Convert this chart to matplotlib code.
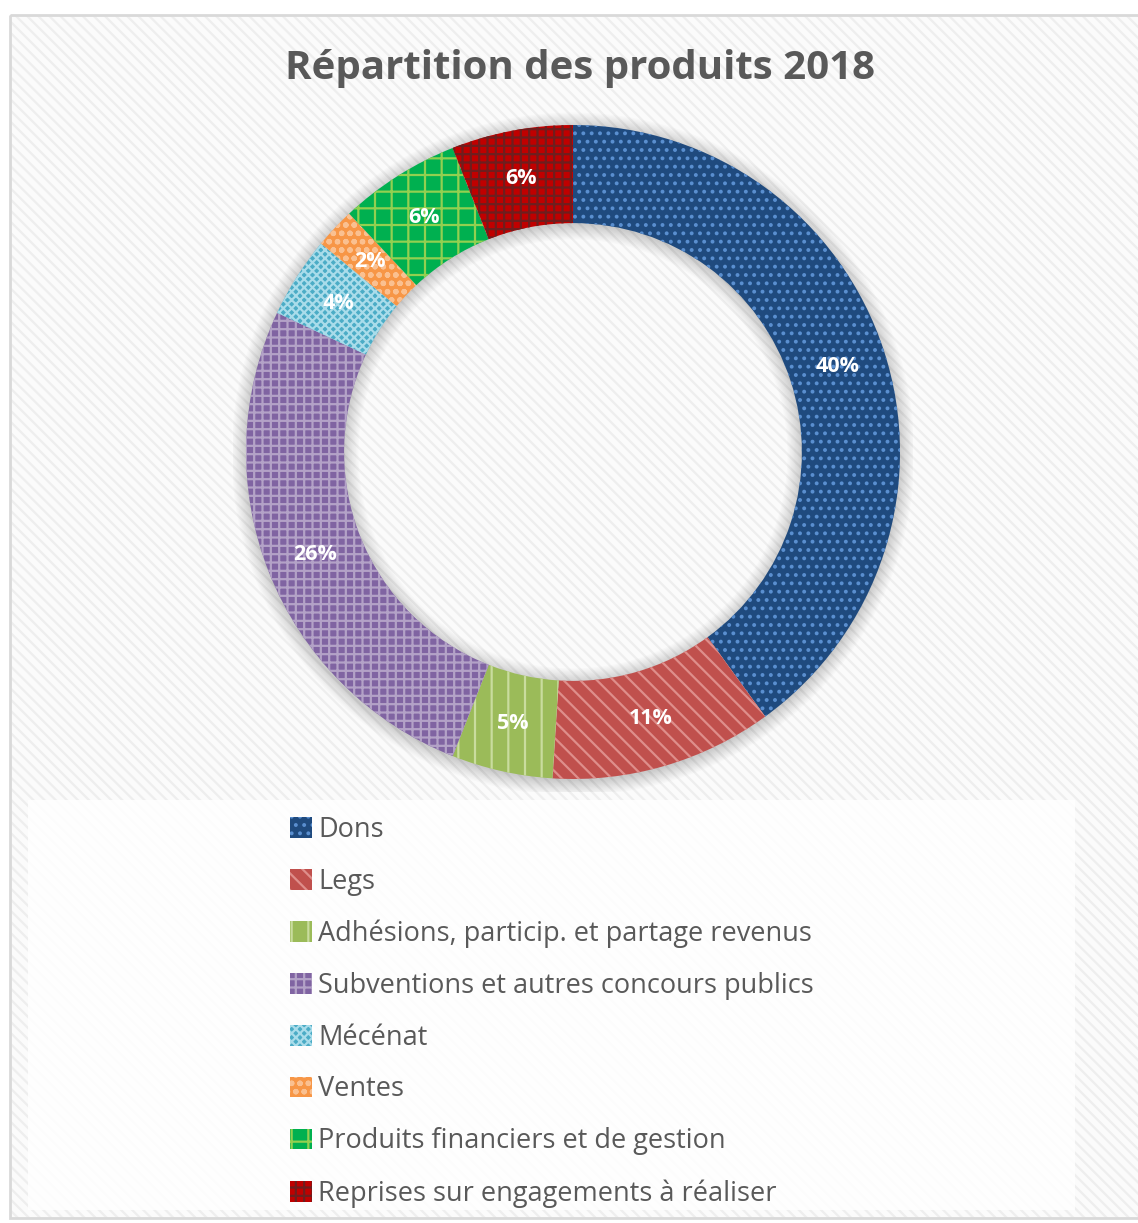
import matplotlib
matplotlib.use("Agg")
import matplotlib.pyplot as plt
from matplotlib.patches import Rectangle, Wedge
import numpy as np

plt.rcParams['font.family'] = ['Open Sans', 'DejaVu Sans']
plt.rcParams['hatch.linewidth'] = 1.6

labels = ["Dons", "Legs", "Adhésions, particip. et partage revenus",
          "Subventions et autres concours publics", "Mécénat", "Ventes",
          "Produits financiers et de gestion", "Reprises sur engagements à réaliser"]
values = [40, 11, 5, 26, 4, 2, 6, 6]
colors = ["#1F4A7E", "#C0504D", "#9BBB59", "#8064A2", "#4BACC6", "#F79646", "#00B050", "#C00000"]
hatch_colors = ["#5A8FD0", "#DE8E8B", "#C9DC9E", "#B3A2C7", "#A9DCEA", "#FAC090", "#92D050", "#6E1E1E"]
hatches = ["..", "\\\\", "|", "++", "xxxx", "oo", "+", "++"]

W, H = 1138, 1223
fig = plt.figure(figsize=(W / 100, H / 100), dpi=100)
fig.patch.set_facecolor("white")

# background frame with faint diagonal texture
bg = fig.add_axes([0, 0, 1, 1])
bg.set_xlim(0, W)
bg.set_ylim(H, 0)
bg.axis("off")
bg.add_patch(Rectangle((10, 15), W - 8, H - 20, facecolor="#fbfbfb", edgecolor="#eeeeee",
                       hatch="\\\\\\", linewidth=0))
bg.add_patch(Rectangle((10, 15), W - 8, H - 20, facecolor="none", edgecolor="#d9d9d9", linewidth=2))
bg.add_patch(Rectangle((28, 800), 1047, 410, facecolor="white", edgecolor="none", alpha=0.85))

fig.text(580 / W, 1 - 68 / H, "Répartition des produits 2018", ha="center", va="center",
         fontsize=29, fontweight="bold", color="#595959")

# donut
cx, cy, R = 573, 452, 327
lim = 340 / R
ax = fig.add_axes([(cx - 340) / W, 1 - (cy + 340) / H, 680 / W, 680 / H])

inner = 0.70
# soft shadow
for i in range(12):
    a = 0.014
    ax.add_patch(Wedge((0, -0.006), 1 + 0.004 * i, 0, 360, width=0.004 * i + 0.02,
                       facecolor="black", edgecolor="none", alpha=a))
    ax.add_patch(Wedge((0, -0.006), inner + 0.01, 0, 360, width=0.01 + 0.004 * i,
                       facecolor="black", edgecolor="none", alpha=a))

wedges, texts, autotexts = ax.pie(values, colors=colors, startangle=90, counterclock=False,
                                  radius=1, wedgeprops=dict(width=1 - inner, linewidth=0),
                                  autopct="%1.0f%%", pctdistance=0.85,
                                  textprops=dict(color="white", fontsize=15.5, fontweight="bold"))
for w, hc, h in zip(wedges, hatch_colors, hatches):
    w.set_edgecolor(hc)
    w.set_linewidth(0)
    w.set_hatch(h)

ax.set_xlim(-lim, lim)
ax.set_ylim(-lim, lim)
ax.set_aspect("equal")
ax.axis("off")

leg = fig.legend(wedges, labels, loc="upper left", bbox_to_anchor=(279 / W, 1 - 805 / H),
                 frameon=False, fontsize=19.5, handlelength=0.8, handleheight=0.8,
                 handletextpad=0.25, labelspacing=0.88, borderaxespad=0)
for t in leg.get_texts():
    t.set_color("#595959")

fig.savefig("out.png", dpi=100)
